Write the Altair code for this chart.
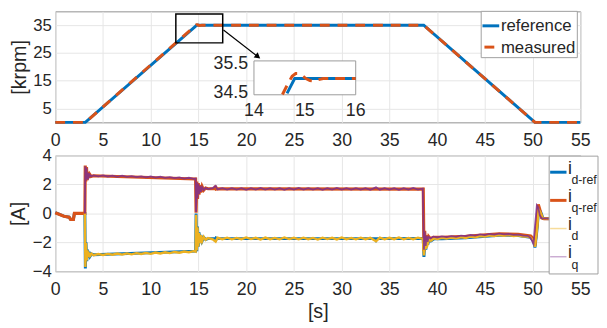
import altair as alt
import pandas as pd

FONT = "Liberation Sans"
TXT = "#262626"
BLUE, ORANGE, YELLOW, PURPLE = "#0072BD", "#D95319", "#EDB120", "#7E2F8E"

# ---------------- data: speed panel ----------------
speed_t = [0, 3.15, 14.65, 14.8, 16.0, 38.6, 50.25, 55]
speed_ref = [0, 0, 34.5, 35, 35, 35, 0, 0]
meas_t = [0, 3.15, 14.56, 14.66, 14.75, 14.82, 14.88, 14.95, 15.02, 15.1, 15.17,
          15.26, 15.36, 16.0, 38.6, 50.25, 55]
meas_v = [0, 0, 34.46, 34.8, 35.08, 35.17, 35.17, 35.1, 35.0, 34.93, 34.92,
          34.96, 35.0, 35.0, 35.0, 0, 0]
zoom_box_t = [12.63, 17.54]
zoom_box_v = [28.64, 39.04]
arrow_t = [17.62, 21.23]
arrow_v = [33.26, 23.67]
inset_t_domain = [14, 16]
inset_v_domain = [34.45, 35.6]
inset_x_ticks = [14, 15, 16]
inset_y_ticks = [34.5, 35.5]
speed_legend = ["reference", "measured"]

# ---------------- data: current panel ----------------
idref_t = [0, 0.9, 1.45, 1.6, 1.9, 2.0, 3.1, 3.15, 3.22, 3.3, 3.38, 3.46, 3.55, 3.65, 3.8, 4.0,
           14.7, 14.75, 14.82, 14.9, 14.98, 15.06, 15.15, 15.25, 15.38, 15.55, 15.75, 16.0,
           16.7, 16.78, 16.86, 17.0, 33.5, 33.6, 33.7, 38.55, 38.62, 38.72, 38.82, 38.92,
           39.02, 39.15, 39.35, 39.7, 40.5, 43.0, 46.5, 48.5, 49.8, 50.1, 50.25, 50.45,
           50.65, 50.85, 51.1, 52.5, 55]
idref_v = [0.05, -0.19, -0.26, -0.41, -0.41, 0.0, 0.0, -3.8, -2.0, -3.3, -2.5, -3.05, -2.65,
           -2.95, -2.8, -2.85, -2.6, 0.0, -2.6, -0.9, -2.3, -1.3, -2.05, -1.5, -1.9, -1.65,
           -1.8, -1.74, -1.74, -1.95, -1.7, -1.74, -1.74, -1.85, -1.74, -1.73, -3.0, -1.95,
           -2.5, -1.85, -2.15, -1.8, -1.9, -1.75, -1.75, -1.68, -1.5, -1.52, -1.65, -1.9,
           -2.35, -1.2, 0.3, 0.1, -0.35, -0.37, -0.37]

iqref_t = [0, 0.9, 1.45, 1.6, 1.9, 2.0, 3.1, 3.14, 3.2, 3.27, 3.34, 3.42, 3.5, 3.6, 3.75, 4.0,
           14.7, 14.75, 14.82, 14.9, 14.98, 15.06, 15.15, 15.25, 15.38, 15.55, 15.75, 16.0,
           16.7, 16.78, 16.86, 17.0, 38.55, 38.62, 38.7, 38.8, 38.9, 39.0, 39.12, 39.3, 39.6,
           40.5, 43.0, 46.5, 48.5, 49.8, 50.1, 50.25, 50.45, 50.6, 50.75, 50.95, 51.2, 52.5, 55]
iqref_v = [0.05, -0.19, -0.26, -0.41, -0.41, 0.0, 0.0, 3.3, 2.2, 3.2, 2.3, 2.85, 2.45, 2.7,
           2.55, 2.6, 2.38, 0.05, 2.2, 1.0, 2.1, 1.3, 1.95, 1.45, 1.85, 1.6, 1.75, 1.7, 1.7,
           1.9, 1.68, 1.7, 1.68, -2.6, -1.2, -2.3, -1.5, -2.0, -1.6, -1.75, -1.65, -1.65,
           -1.58, -1.4, -1.45, -1.55, -1.75, -2.2, -0.8, 0.62, 0.3, -0.3, -0.37, -0.37, -0.37]

id_t = [3.1, 3.15, 3.22, 3.3, 3.38, 3.46, 3.55, 3.65, 3.8, 4.0, 4.5, 5.0, 5.5, 6.0, 6.5, 7.0,
        7.5, 8.0, 8.5, 9.0, 9.5, 10.0, 10.5, 11.0, 11.5, 12.0, 12.5, 13.0, 13.5, 14.0, 14.5,
        14.7, 14.75, 14.82, 14.9, 14.98, 15.06, 15.15, 15.25, 15.38, 15.55, 15.75, 16.0, 16.5,
        16.8, 17.0, 17.5, 18.0, 18.5, 19.0, 19.5, 20.0, 20.5, 21.0, 21.5, 22.0, 22.5, 23.0,
        23.5, 24.0, 24.5, 25.0, 25.5, 26.0, 26.5, 27.0, 27.5, 28.0, 28.5, 29.0, 29.5, 30.0,
        30.5, 31.0, 31.5, 32.0, 32.5, 33.0, 33.6, 34.0, 34.5, 35.0, 35.5, 36.0, 36.5, 37.0,
        37.5, 38.0, 38.5, 38.62, 38.72, 38.82, 38.92, 39.02, 39.15, 39.35, 39.7, 40.0, 40.5,
        41.0, 41.5, 42.0, 42.5, 43.0, 43.5, 44.0, 44.5, 45.0, 45.5, 46.0, 46.5, 47.0, 47.5,
        48.0, 48.5, 49.0, 49.5, 49.8, 50.1, 50.25, 50.45, 50.65, 50.85, 51.1, 52.5]
id_v = [0.0, -3.7, -2.05, -3.25, -2.55, -3.0, -2.7, -2.92, -2.78, -2.88, -2.80, -2.87, -2.79,
        -2.85, -2.77, -2.84, -2.76, -2.82, -2.74, -2.80, -2.72, -2.79, -2.70, -2.76, -2.68,
        -2.74, -2.66, -2.71, -2.63, -2.68, -2.60, -2.64, -0.1, -2.55, -0.95, -2.3, -1.35,
        -2.05, -1.5, -1.92, -1.62, -1.82, -1.7, -1.79, -1.95, -1.68, -1.78, -1.67, -1.79,
        -1.69, -1.78, -1.66, -1.77, -1.68, -1.80, -1.67, -1.78, -1.69, -1.79, -1.66, -1.77,
        -1.68, -1.79, -1.67, -1.78, -1.69, -1.80, -1.67, -1.77, -1.68, -1.79, -1.66, -1.78,
        -1.69, -1.79, -1.67, -1.78, -1.68, -1.92, -1.67, -1.79, -1.68, -1.78, -1.66, -1.79,
        -1.69, -1.78, -1.67, -1.76, -2.9, -1.95, -2.45, -1.85, -2.1, -1.78, -1.88, -1.72,
        -1.76, -1.68, -1.74, -1.66, -1.72, -1.63, -1.69, -1.60, -1.65, -1.56, -1.60, -1.52,
        -1.56, -1.49, -1.54, -1.50, -1.56, -1.52, -1.60, -1.60, -1.68, -1.9, -2.3, -1.2,
        0.25, 0.05, -0.33, -0.37]

iq_t = [3.1, 3.14, 3.2, 3.27, 3.34, 3.42, 3.5, 3.6, 3.75, 4.0, 4.5, 5.0, 5.5, 6.0, 6.5, 7.0,
        7.5, 8.0, 8.5, 9.0, 9.5, 10.0, 10.5, 11.0, 11.5, 12.0, 12.5, 13.0, 13.5, 14.0, 14.5,
        14.7, 14.75, 14.82, 14.9, 14.98, 15.06, 15.15, 15.25, 15.38, 15.55, 15.75, 16.0, 16.5,
        16.8, 17.0, 17.5, 18.0, 18.5, 19.0, 19.5, 20.0, 20.5, 21.0, 21.5, 22.0, 22.5, 23.0,
        23.5, 24.0, 24.5, 25.0, 25.5, 26.0, 26.5, 27.0, 27.5, 28.0, 28.5, 29.0, 29.5, 30.0,
        30.5, 31.0, 31.5, 32.0, 32.5, 33.0, 33.6, 34.0, 34.5, 35.0, 35.5, 36.0, 36.5, 37.0,
        37.5, 38.0, 38.5, 38.62, 38.7, 38.8, 38.9, 39.0, 39.12, 39.3, 39.6, 40.0, 40.5, 41.0,
        41.5, 42.0, 42.5, 43.0, 43.5, 44.0, 44.5, 45.0, 45.5, 46.0, 46.5, 47.0, 47.5, 48.0,
        48.5, 49.0, 49.5, 49.8, 50.1, 50.25, 50.45, 50.6, 50.75, 50.95, 52.5]
iq_v = [0.0, 3.25, 2.25, 3.15, 2.35, 2.8, 2.5, 2.68, 2.56, 2.62, 2.56, 2.63, 2.55, 2.61, 2.53,
        2.60, 2.52, 2.58, 2.50, 2.56, 2.49, 2.55, 2.47, 2.53, 2.45, 2.51, 2.43, 2.49, 2.41,
        2.46, 2.38, 2.40, 0.1, 2.15, 1.05, 2.05, 1.35, 1.9, 1.5, 1.82, 1.62, 1.76, 1.68, 1.75,
        1.9, 1.66, 1.74, 1.64, 1.75, 1.65, 1.74, 1.63, 1.75, 1.65, 1.76, 1.64, 1.74, 1.65,
        1.75, 1.63, 1.74, 1.65, 1.76, 1.64, 1.75, 1.65, 1.74, 1.63, 1.75, 1.64, 1.76, 1.65,
        1.74, 1.64, 1.75, 1.65, 1.74, 1.63, 1.8, 1.64, 1.75, 1.65, 1.74, 1.63, 1.75, 1.64,
        1.76, 1.65, 1.72, -2.5, -1.25, -2.25, -1.55, -1.95, -1.62, -1.72, -1.6, -1.66, -1.58,
        -1.64, -1.56, -1.61, -1.53, -1.57, -1.49, -1.53, -1.45, -1.49, -1.42, -1.46, -1.40,
        -1.45, -1.42, -1.48, -1.46, -1.53, -1.55, -1.70, -2.1, -0.9, 0.55, 0.4, -0.1, -0.33,
        -0.37]

current_legend = ["d-ref", "q-ref", "d", "q"]

X_TICKS = list(range(0, 56, 5))
TOP_Y_TICKS = [5, 15, 25, 35]
BOT_Y_TICKS = [-4, -2, 0, 2, 4]

W, H_TOP, H_BOT = 533, 112.7, 117.7

ref_df = pd.DataFrame({"t": speed_t, "v": speed_ref})
meas_df = pd.DataFrame({"t": meas_t, "v": meas_v})
box_df = pd.DataFrame({"t": [zoom_box_t[0]], "t2": [zoom_box_t[1]],
                       "v": [zoom_box_v[0]], "v2": [zoom_box_v[1]]})
arrow_df = pd.DataFrame({"t": [arrow_t[0]], "t2": [arrow_t[1]],
                         "v": [arrow_v[0]], "v2": [arrow_v[1]]})
tip_df = pd.DataFrame({"t": [arrow_t[1]], "v": [arrow_v[1]]})
one = pd.DataFrame({"a": [0]})

xs = alt.Scale(domain=[0, 55], nice=False, zero=False)
ys_top = alt.Scale(domain=[0, 40], nice=False)
ys_bot = alt.Scale(domain=[-4, 4], nice=False)

x_axis = alt.Axis(values=X_TICKS, title=None, labelFontSize=18, labelPadding=9.5,
                  ticks=False, domain=False, grid=True, labelFlush=False,
                  labelOverlap=False)
x_axis_bot = alt.Axis(values=X_TICKS, title="[s]", labelFontSize=18, labelPadding=9.5,
                      ticks=False, domain=False, grid=True, labelFlush=False,
                      labelOverlap=False, titleFontSize=20, titlePadding=3)
y_axis_top = alt.Axis(values=TOP_Y_TICKS, title="[krpm]", labelFontSize=17, labelPadding=4,
                      ticks=False, domain=False, grid=True, titleFontSize=20,
                      titlePadding=3)
y_axis_bot = alt.Axis(values=BOT_Y_TICKS, title="[A]", labelFontSize=17, labelPadding=4,
                      ticks=False, domain=False, grid=True, titleFontSize=20,
                      titlePadding=4)

XT = alt.X("t:Q", scale=xs, axis=x_axis)
YT = alt.Y("v:Q", scale=ys_top, axis=y_axis_top)

ref_line = alt.Chart(ref_df).mark_line(color=BLUE, strokeWidth=3).encode(x=XT, y=YT)
meas_line = alt.Chart(meas_df).mark_line(color=ORANGE, strokeWidth=3,
                                         strokeDash=[10, 8]).encode(x=XT, y=YT)
zoom_box = alt.Chart(box_df).mark_rect(fillOpacity=0, stroke="black", strokeWidth=1.5).encode(
    x=XT, x2="t2:Q", y=YT, y2="v2:Q")
arrow = alt.Chart(arrow_df).mark_rule(color="black", strokeWidth=1.2).encode(
    x=XT, x2="t2:Q", y=YT, y2="v2:Q")
arrow_tip = alt.Chart(tip_df).mark_point(shape="triangle-right", filled=True, color="black",
                                         opacity=1, size=45, angle=37.6).encode(x=XT, y=YT)

leg_top_box = alt.Chart(one).mark_rect(fill="white", stroke="#a0a0a0", strokeWidth=1).encode(
    x=alt.value(432.4), x2=alt.value(530), y=alt.value(0), y2=alt.value(47))
leg_top_l1 = alt.Chart(one).mark_rule(color=BLUE, strokeWidth=3).encode(
    x=alt.value(433.7), x2=alt.value(450.7), y=alt.value(14.7))
leg_top_l2 = alt.Chart(one).mark_rule(color=ORANGE, strokeWidth=3).encode(
    x=alt.value(435.7), x2=alt.value(445.7), y=alt.value(36.3))
leg_top_t1 = alt.Chart(one).mark_text(align="left", baseline="middle", fontSize=17,
                                      color=TXT).encode(
    x=alt.value(452.4), y=alt.value(15), text=alt.value(speed_legend[0]))
leg_top_t2 = alt.Chart(one).mark_text(align="left", baseline="middle", fontSize=17,
                                      color=TXT).encode(
    x=alt.value(452.4), y=alt.value(37), text=alt.value(speed_legend[1]))

main_top = alt.layer(ref_line, meas_line, zoom_box, arrow, arrow_tip,
                     leg_top_box, leg_top_l1, leg_top_l2, leg_top_t1, leg_top_t2)

# inset
xs_in = alt.Scale(domain=inset_t_domain, range=[201.7, 305], nice=False, zero=False)
ys_in = alt.Scale(domain=inset_v_domain, range=[84.7, 50.3], nice=False, zero=False)
XI = alt.X("t:Q", scale=xs_in, axis=None)
YI = alt.Y("v:Q", scale=ys_in, axis=None)
flt = f"datum.t >= {inset_t_domain[0]} && datum.t <= {inset_t_domain[1]} && datum.v >= {inset_v_domain[0]}"

inset_box = alt.Chart(one).mark_rect(fill="white", stroke="#9a9a9a", strokeWidth=1).encode(
    x=alt.value(201.7), x2=alt.value(305), y=alt.value(50.3), y2=alt.value(84.7))
inset_ref = alt.Chart(ref_df).transform_filter(flt).mark_line(
    color=BLUE, strokeWidth=3).encode(x=XI, y=YI)
inset_meas = alt.Chart(meas_df).transform_filter(flt).mark_line(
    color=ORANGE, strokeWidth=3, strokeDash=[10, 7]).encode(x=XI, y=YI)
inx_df = pd.DataFrame({"t": inset_x_ticks, "v": [inset_v_domain[0]] * 3,
                       "lab": [str(v) for v in inset_x_ticks]})
iny_df = pd.DataFrame({"t": [inset_t_domain[0]] * 2, "v": inset_y_ticks,
                       "lab": [str(v) for v in inset_y_ticks]})
inset_xl = alt.Chart(inx_df).mark_text(baseline="top", dy=8, fontSize=18, color=TXT).encode(
    x=XI, y=YI, text="lab:N")
inset_yl = alt.Chart(iny_df).mark_text(align="right", baseline="middle", dx=-6, fontSize=18,
                                       color=TXT).encode(x=XI, y=YI, text="lab:N")
inset = alt.layer(inset_box, inset_ref, inset_meas, inset_xl, inset_yl)

top = alt.layer(main_top, inset).resolve_scale(x="independent", y="independent").properties(
    width=W, height=H_TOP)

# ---------------- bottom panel ----------------
XB = alt.X("t:Q", scale=xs, axis=x_axis_bot)
YB = alt.Y("v:Q", scale=ys_bot, axis=y_axis_bot)

def series(t, v, color, width, op=1.0):
    return alt.Chart(pd.DataFrame({"t": t, "v": v})).mark_line(
        color=color, strokeWidth=width, opacity=op).encode(x=XB, y=YB)

l_idref = series(idref_t, idref_v, BLUE, 3)
l_iqref = series(iqref_t, iqref_v, ORANGE, 3.2)
l_id = series(id_t, id_v, YELLOW, 2.4)
l_iq = series(iq_t, iq_v, PURPLE, 1.8, 0.85)

leg_bot = [alt.Chart(one).mark_rect(fill="white", stroke="#a0a0a0", strokeWidth=1).encode(
    x=alt.value(501.4), x2=alt.value(551), y=alt.value(0.7), y2=alt.value(120.3))]
styles = [(BLUE, 3, 1.0), (ORANGE, 3, 1.0), (YELLOW, 1.5, 0.45), (PURPLE, 1.5, 0.4)]
for i, (sub, (col, sw, op)) in enumerate(zip(current_legend, styles)):
    ly = 17 + i * 28.6
    leg_bot.append(alt.Chart(one).mark_rule(color=col, strokeWidth=sw, opacity=op).encode(
        x=alt.value(502.4), x2=alt.value(519), y=alt.value(ly)))
    leg_bot.append(alt.Chart(one).mark_text(align="left", baseline="alphabetic", fontSize=18,
                                            color=TXT).encode(
        x=alt.value(520.5), y=alt.value(ly + 1.5), text=alt.value("i")))
    leg_bot.append(alt.Chart(one).mark_text(align="left", baseline="alphabetic", fontSize=12.5,
                                            color=TXT).encode(
        x=alt.value(524), y=alt.value(ly + 12), text=alt.value(sub)))

bottom = alt.layer(l_idref, l_iqref, l_id, l_iq, *leg_bot).properties(width=W, height=H_BOT)

chart = alt.vconcat(top, bottom, spacing=33.3, bounds="flush").properties(
    padding=0
).configure(font=FONT).configure_axis(
    labelColor=TXT, titleColor=TXT, gridColor="#e6e6e6", gridWidth=1,
    titleFontWeight="normal", labelFont=FONT, titleFont=FONT
).configure_view(stroke="#8f8f8f", strokeWidth=1).configure_text(font=FONT)

chart.save("out.html", embed_options={"renderer": "svg", "actions": False})
